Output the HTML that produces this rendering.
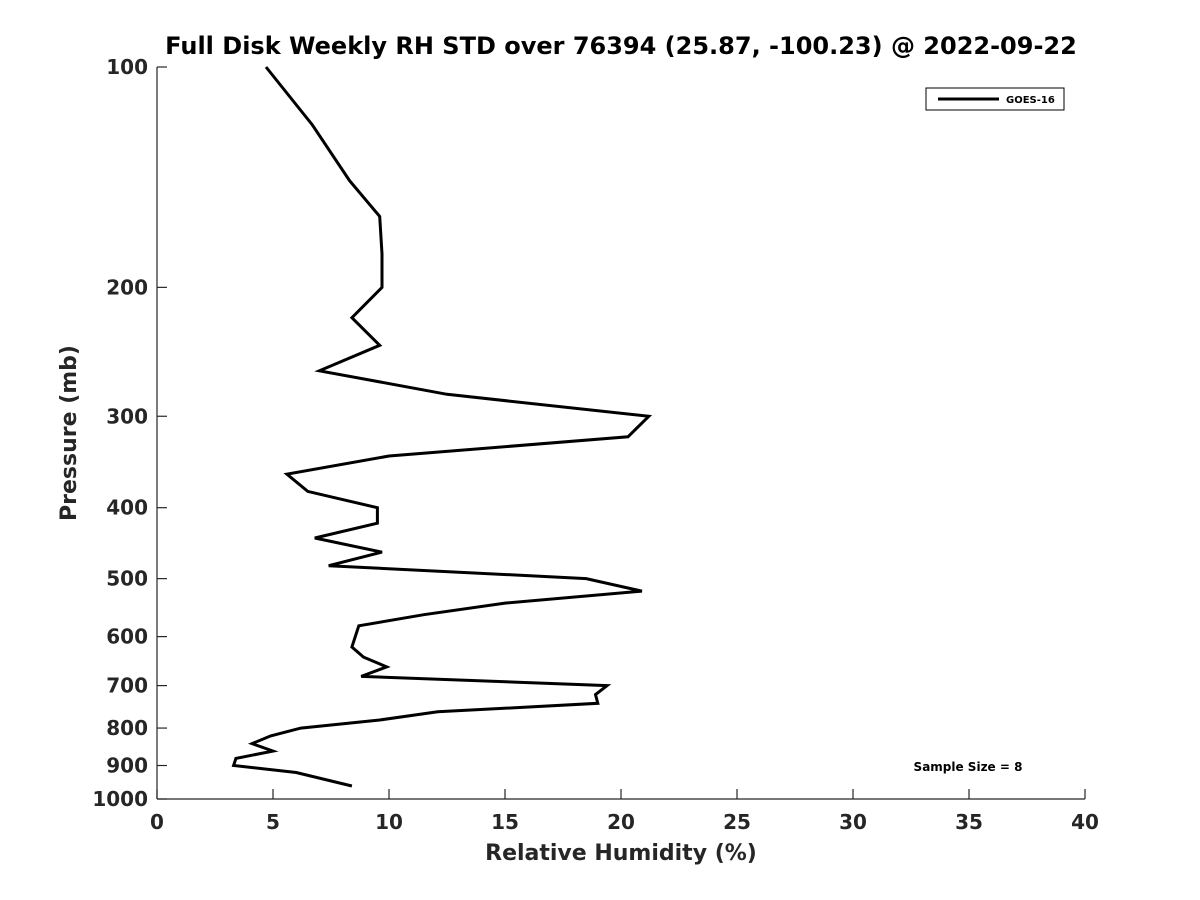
<!DOCTYPE html>
<html><head><meta charset="utf-8"><style>
html,body{margin:0;padding:0;background:#fff;}
svg{display:block;font-family:"DejaVu Sans","Liberation Sans",sans-serif;font-weight:bold;}
</style></head><body>
<svg id="chart" width="1200" height="900">
<rect width="1200" height="900" fill="#fff"/>
<text x="621" y="54" text-anchor="middle" font-size="24" fill="#000">Full Disk Weekly RH STD over 76394 (25.87, -100.23) @ 2022-09-22</text>
<g id="axes"></g>
<g id="series"></g>
<g>
<rect x="926" y="88" width="138" height="22" fill="#fff" stroke="#000" stroke-width="1"/>
<line x1="938" y1="99" x2="999" y2="99" stroke="#000" stroke-width="3"/>
<text x="1006" y="103" font-size="10" fill="#000">GOES-16</text>
</g>
<text x="968" y="771" text-anchor="middle" font-size="12" fill="#000">Sample Size = 8</text>
<text x="621" y="860" text-anchor="middle" font-size="22" fill="#262626">Relative Humidity (%)</text>
<text transform="translate(76,433) rotate(-90)" text-anchor="middle" font-size="22" fill="#262626">Pressure (mb)</text>
</svg>
<script>
const pressures=[100,120,143,160,180,200,220,240,260,280,300,320,340,360,380,400,420,440,460,480,500,520,540,560,580,620,640,660,680,700,720,740,760,780,800,820,840,860,880,900,920,960];
const rhStd=[4.7,6.7,8.3,9.6,9.7,9.7,8.4,9.6,7.0,12.5,21.2,20.3,10.0,5.6,6.5,9.5,9.5,6.8,9.7,7.4,18.5,20.9,15.0,11.5,8.7,8.4,8.9,9.9,8.8,19.4,18.9,19.0,12.1,9.6,6.2,4.9,4.1,5.0,3.4,3.3,6.0,8.4];
const xTicks=[0,5,10,15,20,25,30,35,40];
const yTicks=[100,200,300,400,500,600,700,800,900,1000];
const NS="http://www.w3.org/2000/svg";
const X0=157,X1=1085,Y0=67,Y1=799;
function xs(v){return X0+(v-0)/(40-0)*(X1-X0);}
function ys(p){return Y0+(Math.log10(p)-2)*(Y1-Y0);}
const axes=document.getElementById('axes');
function mk(tag,attrs,parent){const e=document.createElementNS(NS,tag);for(const k in attrs)e.setAttribute(k,attrs[k]);parent.appendChild(e);return e;}
const xl=mk('line',{x1:X0,y1:Y1,x2:X1,y2:Y1,stroke:'#262626','stroke-width':1.2},axes);


const yl=mk('line',{x1:X0,y1:Y0,x2:X0,y2:Y1,stroke:'#262626','stroke-width':1.2},axes);


xTicks.forEach(t=>{
  const x=xs(t);
  const tk=mk('line',{x1:x,y1:Y1,x2:x,y2:Y1-10,stroke:'#262626','stroke-width':1.2},axes);
  
  
  const tx=mk('text',{x:x,y:Y1+30,'text-anchor':'middle','font-size':20,fill:'#262626'},axes);
  tx.textContent=t;
  
  
});
yTicks.forEach(t=>{
  const y=ys(t);
  const tk=mk('line',{x1:X0,y1:y,x2:X0+10,y2:y,stroke:'#262626','stroke-width':1.2},axes);
  
  
  const tx=mk('text',{x:X0-9,y:y+7,'text-anchor':'end','font-size':20,fill:'#262626'},axes);
  tx.textContent=t;
  
  
});
const pts=pressures.map((p,i)=>xs(rhStd[i]).toFixed(1)+','+ys(p).toFixed(1)).join(' ');
const pl=mk('polyline',{points:pts,fill:'none',stroke:'#000','stroke-width':3,'stroke-linejoin':'miter'},document.getElementById('series'));


</script>
</body></html>
